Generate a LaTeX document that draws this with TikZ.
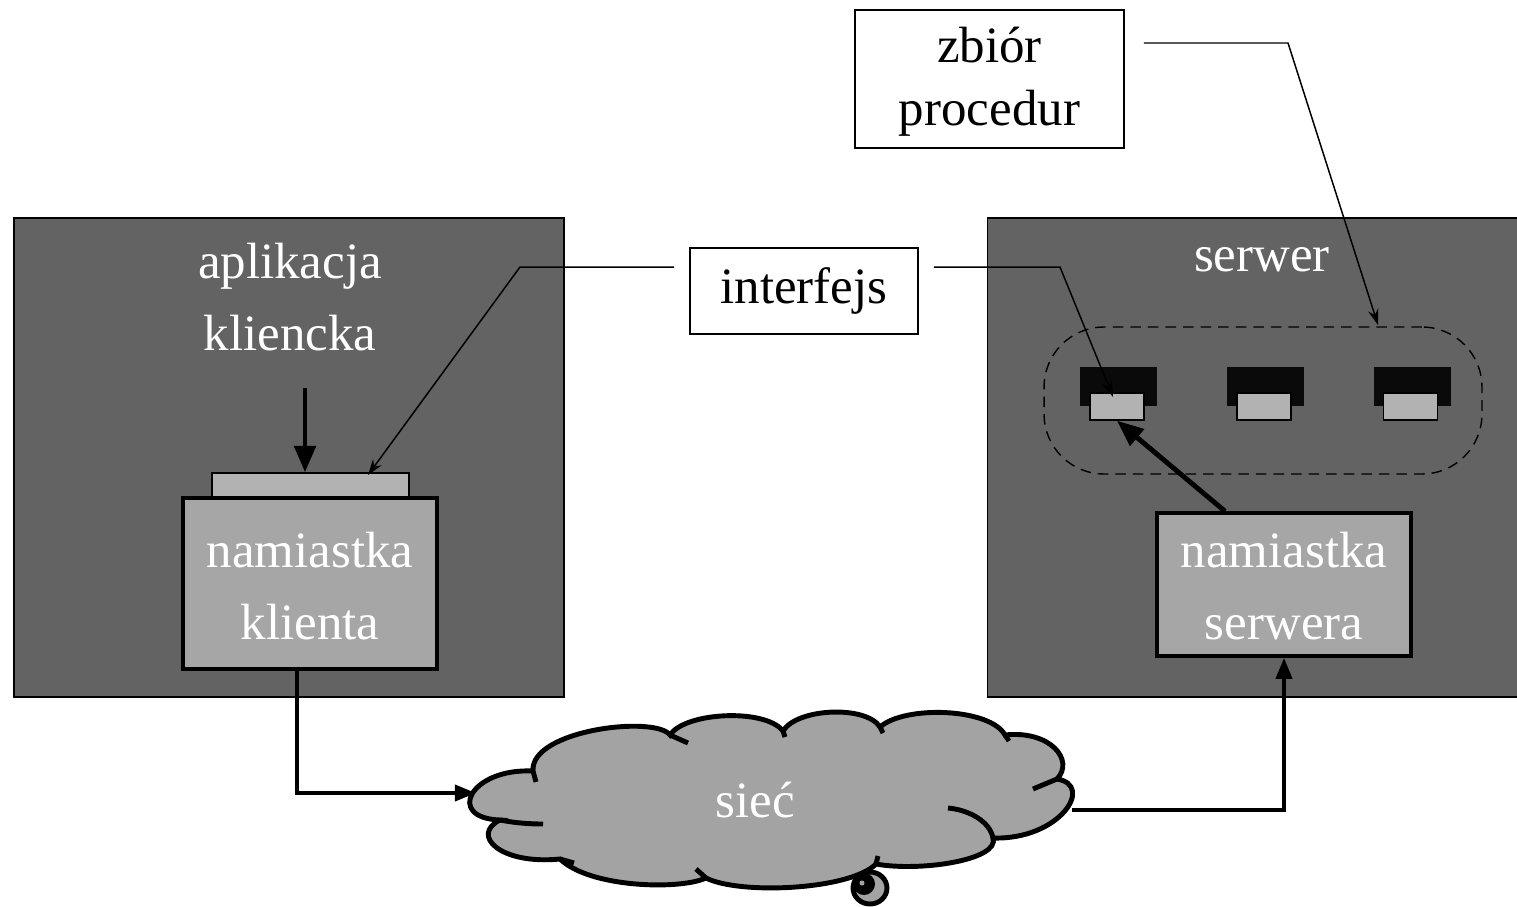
\documentclass[tikz,border=0pt]{standalone}
\usepackage{fontspec}
\setmainfont{Liberation Serif}
\usetikzlibrary{arrows.meta,shapes.geometric,calc}
\definecolor{darkbox}{gray}{0.39}
\definecolor{stubgray}{gray}{0.65}
\definecolor{bargray}{gray}{0.70}
\definecolor{cloudgray}{gray}{0.64}
\definecolor{iconblack}{gray}{0.04}
\begin{document}
\begin{tikzpicture}[x=0.02cm,y=-0.02cm,
  hostbox/.style={draw=black,line width=0.8pt,fill=darkbox,minimum width=#1,minimum height=9.58cm,inner sep=0pt},
  stubbox/.style={draw=black,line width=2pt,fill=stubgray,minimum width=5.08cm,inner sep=0pt},
  labelbox/.style={draw=black,line width=0.9pt,fill=white,inner sep=0pt},
  wtxt/.style={text=white,font=\fontsize{29}{41}\selectfont,align=center,inner sep=0pt},
  btxt/.style={text=black,font=\fontsize{29}{36}\selectfont,align=center,inner sep=0pt},
  iconbig/.style={fill=iconblack,minimum width=1.54cm,minimum height=0.78cm,inner sep=0pt},
  iconsmall/.style={draw=black,line width=0.8pt,fill=bargray,minimum width=1.08cm,minimum height=0.54cm,inner sep=0pt},
  cloudline/.style={draw=black,line width=2.8pt},
  conn/.style={line width=2.4pt,-{Triangle[length=12pt,width=9pt]}},
  bigarrow/.style={line width=2.8pt,-{Triangle[length=15pt,width=12pt]}},
  thinarrow/.style={line width=0.85pt,-{Stealth[length=9pt,width=6pt,inset=3pt]}}]
\useasboundingbox (0,0) rectangle (1517,906);

% host boxes
\node[hostbox=11cm] (client) at (289,457.5) {};
\node[hostbox=10.62cm] (server) at (1253,457.5) {};
\node[wtxt] (apptxt) at (290,297) {aplikacja\\kliencka};
\node[wtxt] (srvtxt) at (1262,260) {serwer};

% client side
\node[draw=black,line width=0.8pt,fill=bargray,minimum width=3.94cm,minimum height=0.54cm,inner sep=0pt] (bar) at (310.5,486.5) {};
\node[stubbox,minimum height=3.42cm] (stubc) at (310,583.5) {};
\node[wtxt] (stubctxt) at (310,586) {namiastka\\klienta};
\coordinate (downstart) at (305,388);
\draw[bigarrow] (downstart) -- (downstart |- bar.north);

% server side
\node[draw=black,line width=0.8pt,dashed,dash pattern=on 6pt off 4pt,rounded corners=1.2cm,minimum width=8.76cm,minimum height=2.94cm,inner sep=0pt] (procset) at (1263,400.5) {};
\node[iconbig] (ib1) at (1118.5,386.5) {};
\node[iconbig] (ib2) at (1265.5,386.5) {};
\node[iconbig] (ib3) at (1412.5,386.5) {};
\node[iconsmall] (is1) at (1117,406.5) {};
\node[iconsmall] (is2) at (1264,406.5) {};
\node[iconsmall] (is3) at (1410.5,406.5) {};
\node[stubbox,minimum height=2.86cm] (stubs) at (1284,584.5) {};
\node[wtxt] (stubstxt) at (1284,586) {namiastka\\serwera};
\draw[bigarrow] ($(stubs.north)+(-59,0)$) -- (is1.south);

% network cloud
\coordinate (J1) at (533,771);
\coordinate (J2) at (670,735);
\coordinate (J3) at (783,731);
\coordinate (J4) at (880,727);
\coordinate (J5) at (1005,735);
\coordinate (J6) at (1057,779);
\coordinate (J7) at (993,838);
\coordinate (J8) at (876,864);
\coordinate (J9) at (706,878);
\coordinate (J10) at (560,859);
\coordinate (J11) at (500,820);
\path[cloudline,fill=cloudgray] (J11)
  .. controls (445,818) and (470,768) .. (J1)
  .. controls (530,730) and (655,715) .. (J2)
  .. controls (685,712) and (765,708) .. (J3)
  .. controls (797,708) and (866,705) .. (J4)
  .. controls (905,705) and (990,708) .. (J5)
  .. controls (1050,730) and (1075,760) .. (J6)
  .. controls (1095,785) and (1060,840) .. (J7)
  .. controls (1000,860) and (920,872) .. (J8)
  .. controls (850,890) and (740,895) .. (J9)
  .. controls (680,890) and (590,888) .. (J10)
  .. controls (500,865) and (470,835) .. (J11) -- cycle;
% puff overlaps
\draw[cloudline] (J1) -- (536,782);
\draw[cloudline] (J11) .. controls (515,823) and (530,824) .. (543,824);
\draw[cloudline] (J10) -- (574,863);
\draw[cloudline] (J9) -- (696,869);
\draw[cloudline] (J8) -- (878,856);
\draw[cloudline] (J7) .. controls (990,822) and (970,810) .. (948,808);
\draw[cloudline] (J6) -- (1033,789);
\draw[cloudline] (J5) -- (1009,741);
\draw[cloudline] (J4) -- (883,733);
\draw[cloudline] (J3) -- (785,737);
\draw[cloudline] (J2) -- (688,743);
\node[inner sep=0pt,minimum width=12cm,minimum height=3.5cm] (net) at (775,797) {};
\node[wtxt] (nettxt) at (755,800) {sieć};
\node[draw=black,line width=2.8pt,fill=cloudgray,ellipse,minimum width=0.68cm,minimum height=0.64cm,inner sep=0pt] (bubble) at (870,888) {};
\node[fill=black,circle,minimum size=0.44cm,inner sep=0pt] (bubblein) at (864,884) {};
\node[fill=cloudgray,circle,minimum size=0.1cm,inner sep=0pt] (bubbledot) at (862,883) {};

\coordinate (cdown) at (297,669);
\coordinate (netin) at (476,793);
\coordinate (netout) at (1072,810);
\draw[conn] (cdown) |- (netin);
\draw[conn] (netout) -| (stubs.south);

% label boxes
\node[labelbox,minimum width=4.56cm,minimum height=1.72cm] (ifc) at (804,291) {};
\node[btxt] (ifctxt) at (804,291) {interfejs};
\node[labelbox,minimum width=5.38cm,minimum height=2.76cm] (procs) at (989.5,79) {};
\node[btxt] (procstxt) at (989.5,82) {zbiór\\procedur};

% annotation lines
\coordinate (ifl) at (520,267);
\coordinate (ifr) at (1060,267);
\coordinate (prk) at (1288,43);
\draw[thinarrow] ($(ifc.west |- ifl)+(-15,0)$) -- (ifl) -- (368,475);
\draw[thinarrow] ($(ifc.east |- ifr)+(15,0)$) -- (ifr) -- (1113,397);
\draw[thinarrow] ($(procs.east |- prk)+(19,0)$) -- (prk) -- (1378,325);
\end{tikzpicture}
\end{document}
